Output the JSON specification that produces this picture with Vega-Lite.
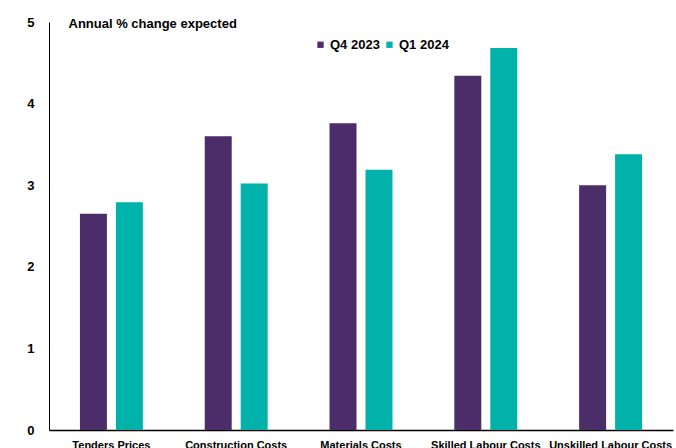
{
  "$schema": "https://vega.github.io/schema/vega-lite/v6.json",
  "width": 624,
  "height": 408,
  "autosize": {"type": "none"},
  "padding": {"left": 49, "top": 22, "right": 3, "bottom": 18},
  "background": "white",
  "config": {
    "view": {"stroke": null},
    "font": "Liberation Sans, Arial"
  },
  "data": {
    "values": [
      {"category": "Tenders Prices", "series": "Q4 2023", "value": 2.65},
      {"category": "Tenders Prices", "series": "Q1 2024", "value": 2.79},
      {"category": "Construction Costs", "series": "Q4 2023", "value": 3.60},
      {"category": "Construction Costs", "series": "Q1 2024", "value": 3.02},
      {"category": "Materials Costs", "series": "Q4 2023", "value": 3.76},
      {"category": "Materials Costs", "series": "Q1 2024", "value": 3.19},
      {"category": "Skilled Labour Costs", "series": "Q4 2023", "value": 4.34},
      {"category": "Skilled Labour Costs", "series": "Q1 2024", "value": 4.68},
      {"category": "Unskilled Labour Costs", "series": "Q4 2023", "value": 3.00},
      {"category": "Unskilled Labour Costs", "series": "Q1 2024", "value": 3.38}
    ]
  },
  "mark": {"type": "bar"},
  "encoding": {
    "x": {
      "field": "category",
      "type": "nominal",
      "sort": null,
      "scale": {"paddingInner": 0, "paddingOuter": 0},
      "axis": {
        "title": null,
        "labelAngle": 0,
        "ticks": false,
        "labelPadding": 9,
        "labelFontSize": 11,
        "labelFontWeight": "bold",
        "labelColor": "black",
        "domainColor": "black",
        "domainWidth": 1.5,
        "grid": false
      }
    },
    "xOffset": {
      "field": "series",
      "type": "nominal",
      "sort": ["Q4 2023", "Q1 2024"],
      "scale": {"paddingInner": 0.25, "paddingOuter": 0.86}
    },
    "y": {
      "field": "value",
      "type": "quantitative",
      "scale": {"domain": [0, 5], "nice": false},
      "axis": {
        "values": [0, 1, 2, 3, 4, 5],
        "title": "Annual % change expected",
        "titleAngle": 0,
        "titleAlign": "left",
        "titleBaseline": "middle",
        "titleX": 19,
        "titleY": 1,
        "titleFontSize": 13,
        "titleFontWeight": "bold",
        "titleColor": "black",
        "ticks": false,
        "labelPadding": 15,
        "labelFontSize": 13,
        "labelFontWeight": "bold",
        "labelColor": "black",
        "domainColor": "black",
        "domainWidth": 1,
        "grid": false
      }
    },
    "color": {
      "field": "series",
      "type": "nominal",
      "sort": ["Q4 2023", "Q1 2024"],
      "scale": {"domain": ["Q4 2023", "Q1 2024"], "range": ["#4B2D6A", "#00B2A9"]},
      "legend": {
        "title": null,
        "orient": "none",
        "direction": "horizontal",
        "legendX": 265,
        "legendY": 16,
        "symbolType": "square",
        "symbolSize": 40,
        "symbolStrokeWidth": 0,
        "labelOffset": 3,
        "columnPadding": 3,
        "labelFontSize": 13,
        "labelFontWeight": "bold",
        "labelColor": "black"
      }
    }
  }
}
